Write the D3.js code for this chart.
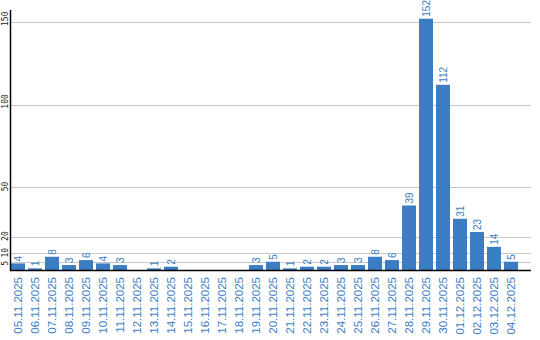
<!DOCTYPE html>
<html>
<head>
<meta charset="utf-8">
<script src="https://cdn.jsdelivr.net/npm/d3@7"></script>
<style>
    body { margin: 0; background: #fff; }
    svg { display: block; }
</style>
</head>
<body>
<div id="chart"></div>
<script>
const dates = ['05.11.2025', '06.11.2025', '07.11.2025', '08.11.2025', '09.11.2025', '10.11.2025',
    '11.11.2025', '12.11.2025', '13.11.2025', '14.11.2025', '15.11.2025', '16.11.2025', '17.11.2025',
    '18.11.2025', '19.11.2025', '20.11.2025', '21.11.2025', '22.11.2025', '23.11.2025', '24.11.2025',
    '25.11.2025', '26.11.2025', '27.11.2025', '28.11.2025', '29.11.2025', '30.11.2025', '01.12.2025',
    '02.12.2025', '03.12.2025', '04.12.2025']
const counts = [4, 1, 8, 3, 6, 4, 3, 0, 1, 2, 0, 0, 0, 0, 3, 5, 1, 2, 2, 3, 3, 8, 6, 39, 152, 112, 31, 23, 14, 5]
const yTicks = [5, 10, 20, 50, 100, 150]

const width = 540
const height = 340
const blue = '#3b7dc3'
const baseY = 270

const svg = d3.select('#chart')
    .append('svg')
    .attr('width', width)
    .attr('height', height)

const x = d3.scaleBand().domain(dates).range([11, 518]).paddingInner(3 / 17).paddingOuter(0)
const y = d3.scaleLinear().domain([0, 150]).range([baseY, 22])

// grid lines
svg.append('g')
    .selectAll('line')
    .data(yTicks)
    .enter()
    .append('line')
    .attr('x1', 11)
    .attr('x2', 531)
    .attr('y1', (d) => Math.round(y(d)) + 0.5)
    .attr('y2', (d) => Math.round(y(d)) + 0.5)
    .attr('stroke', '#c8c8c8')
    .attr('stroke-width', 1)

// y tick labels (rotated, reading upward from just below the line)
svg.append('g')
    .selectAll('text')
    .data(yTicks)
    .enter()
    .append('text')
    .attr('transform', (d) => `translate(7.5, ${y(d) + 4}) rotate(-90)`)
    .attr('text-anchor', 'start')
    .attr('font-family', 'DejaVu Sans Mono, monospace')
    .attr('font-size', 8)
    .attr('fill', '#222')
    .text((d) => d)

// bars
svg.append('g')
    .selectAll('rect')
    .data(counts)
    .enter()
    .append('rect')
    .attr('x', (d, i) => x(dates[i]))
    .attr('y', (d) => y(d))
    .attr('width', x.bandwidth())
    .attr('height', (d) => baseY - y(d))
    .attr('fill', blue)

// value labels, zero days get none
svg.append('g')
    .selectAll('text')
    .data(counts.map((v, i) => ({ v, date: dates[i] })).filter((d) => d.v > 0))
    .enter()
    .append('text')
    .attr('transform', (d) => `translate(${x(d.date) + x.bandwidth() / 2}, ${y(d.v) - 2}) rotate(-90)`)
    .attr('text-anchor', 'start')
    .attr('dy', '0.35em')
    .attr('font-family', 'Liberation Sans, Arial, sans-serif')
    .attr('font-size', 10)
    .attr('fill', blue)
    .text((d) => d.v)

// x labels
const xAxis = d3.axisBottom(x).tickSize(0).tickPadding(0)
const gx = svg.append('g')
    .attr('transform', `translate(0, ${baseY})`)
    .call(xAxis)
gx.select('.domain').remove()
gx.selectAll('text')
    .attr('transform', 'translate(0, 7) rotate(-90)')
    .attr('text-anchor', 'end')
    .attr('x', 0)
    .attr('y', 0)
    .attr('dy', '0.35em')
    .attr('font-family', 'Liberation Sans, Arial, sans-serif')
    .attr('font-size', 11.5)
    .attr('fill', blue)

// axis lines
svg.append('line')
    .attr('x1', 10.5).attr('x2', 10.5)
    .attr('y1', 10).attr('y2', baseY + 1)
    .attr('stroke', '#000')
    .attr('stroke-width', 1.5)
svg.append('line')
    .attr('x1', 10).attr('x2', 531)
    .attr('y1', baseY + 0.5).attr('y2', baseY + 0.5)
    .attr('stroke', '#000')
    .attr('stroke-width', 1.5)
</script>
</body>
</html>
